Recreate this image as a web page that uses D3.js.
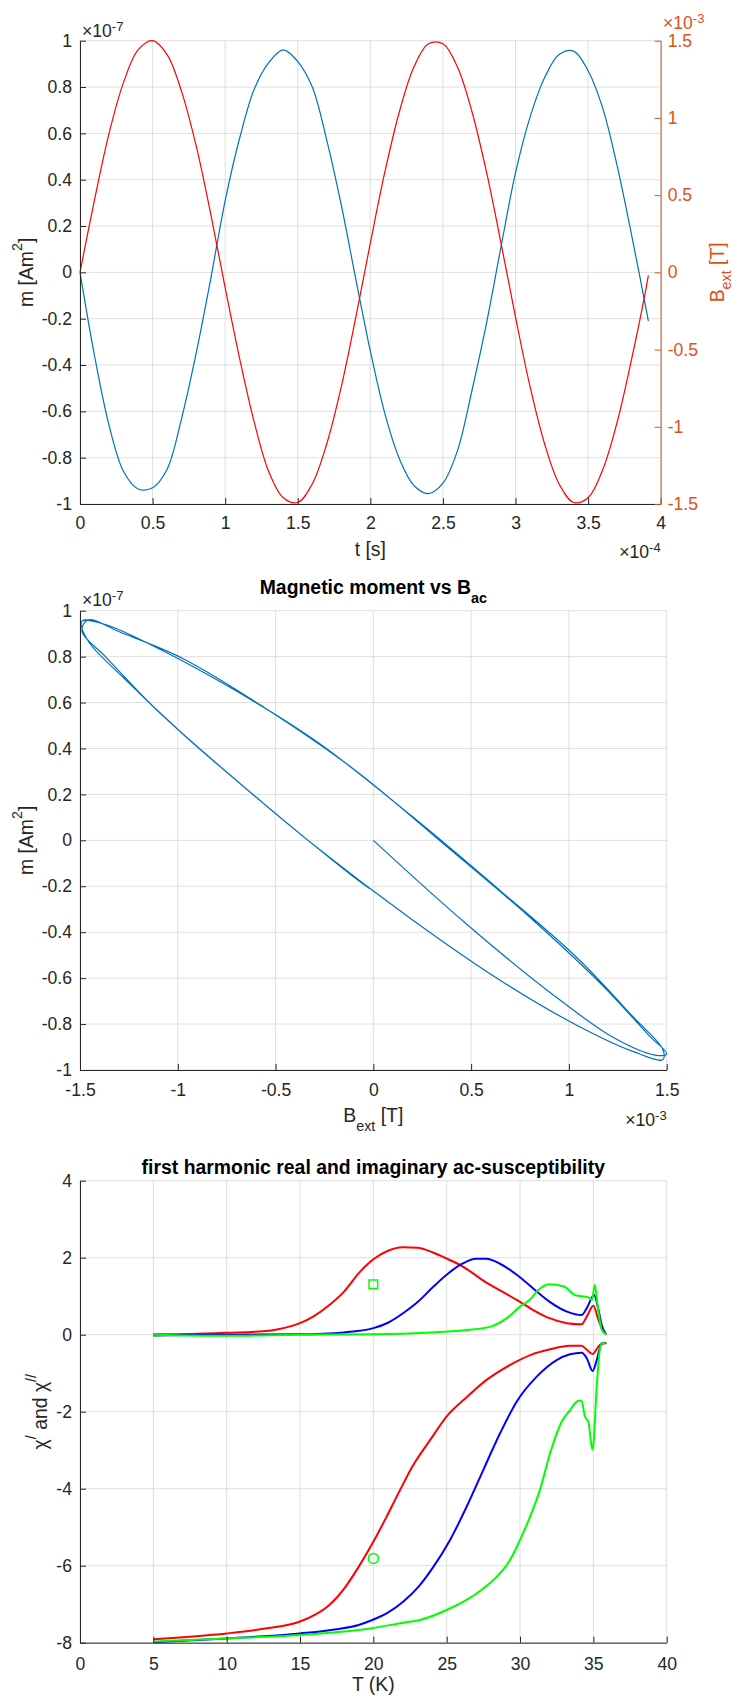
<!DOCTYPE html>
<html>
<head>
<meta charset="utf-8">
<script src="https://cdnjs.cloudflare.com/ajax/libs/d3/7.8.5/d3.min.js"></script>
<style>
body { margin: 0; background: #fff; }
svg { display: block; }
</style>
</head>
<body>
<script>
// time signal: t in 1e-4 s, B_ext in 1e-3 T, m in 1e-7 Am^2
const timeVals = [0, 0.1, 0.2, 0.3, 0.4, 0.5, 0.6, 0.7, 0.8, 0.9,
  1.0, 1.1, 1.2, 1.3, 1.4, 1.5, 1.6, 1.7, 1.8, 1.9,
  2.0, 2.1, 2.2, 2.3, 2.4, 2.5, 2.6, 2.7, 2.8, 2.9,
  3.0, 3.1, 3.2, 3.3, 3.4, 3.5, 3.6, 3.7, 3.8, 3.9, 3.915];
const fieldVals = [0, 0.47, 0.90, 1.23, 1.44, 1.50, 1.41, 1.17, 0.82, 0.38,
  -0.10, -0.56, -0.97, -1.29, -1.46, -1.49, -1.37, -1.11, -0.74, -0.29,
  0.19, 0.65, 1.04, 1.33, 1.48, 1.48, 1.33, 1.04, 0.65, 0.19,
  -0.29, -0.74, -1.11, -1.37, -1.49, -1.46, -1.28, -0.97, -0.56, -0.10, -0.02];
const momentVals = [0, -0.36, -0.66, -0.86, -0.935, -0.93, -0.85, -0.63, -0.35, -0.03,
  0.31, 0.58, 0.79, 0.905, 0.96, 0.91, 0.80, 0.57, 0.29, -0.03,
  -0.34, -0.61, -0.805, -0.92, -0.955, -0.91, -0.77, -0.51, -0.22, 0.11,
  0.43, 0.67, 0.84, 0.94, 0.955, 0.87, 0.71, 0.46, 0.16, -0.16, -0.21];

// tick values
const timeTicks = [0, 0.5, 1, 1.5, 2, 2.5, 3, 3.5, 4];
const momentTicks = [-1, -0.8, -0.6, -0.4, -0.2, 0, 0.2, 0.4, 0.6, 0.8, 1];
const fieldTicks = [-1.5, -1, -0.5, 0, 0.5, 1, 1.5];
const tempTicks = [0, 5, 10, 15, 20, 25, 30, 35, 40];
const chiTicks = [-8, -6, -4, -2, 0, 2, 4];

// susceptibility curves (T in K)
const redImagT = [5, 7.5, 10, 12.5, 13.6, 15, 15.9, 17.0, 18.0, 19.1, 20.0, 21.0, 22.0, 23.0, 24.1, 25.1, 26.1, 27.6, 28.6, 29.8, 30.9, 32.0, 33.2, 34.2, 34.55, 35.0, 35.35, 35.7, 35.9];
const redImag = [0.01, 0.02, 0.05, 0.09, 0.15, 0.30, 0.47, 0.77, 1.12, 1.64, 1.96, 2.18, 2.27, 2.26, 2.13, 1.96, 1.77, 1.38, 1.16, 0.90, 0.64, 0.43, 0.30, 0.27, 0.47, 0.75, 0.38, 0.08, 0.0];
const blueImagT = [5, 10, 15, 18, 20, 21, 22, 23, 24.1, 25.1, 26.1, 27.0, 27.7, 28.6, 29.8, 30.9, 32.0, 33.2, 34.2, 34.55, 35.05, 35.35, 35.6, 35.85];
const blueImag = [-0.02, 0.0, 0.01, 0.06, 0.17, 0.31, 0.55, 0.84, 1.25, 1.59, 1.85, 1.97, 1.97, 1.85, 1.55, 1.20, 0.86, 0.60, 0.51, 0.69, 1.03, 0.64, 0.21, 0.02];
const greenImagT = [5, 10, 15, 20, 24, 26.4, 28, 29.1, 30, 30.7, 31.25, 32.0, 33.0, 33.75, 34.66, 34.9, 35.1, 35.3, 35.57, 35.9];
const greenImag = [0, -0.03, 0, 0.01, 0.06, 0.12, 0.21, 0.43, 0.73, 0.92, 1.16, 1.31, 1.25, 1.03, 0.97, 0.90, 1.29, 0.73, 0.13, 0.0];

const redRealT = [5, 10, 12.5, 15, 16, 17, 18, 19, 20, 20.9, 21.8, 22.7, 23.9, 25, 26.4, 27.7, 29.3, 30.7, 32.05, 33.4, 34.2, 34.55, 34.95, 35.34, 35.68, 35.9];
const redReal = [-7.91, -7.76, -7.64, -7.45, -7.28, -7.02, -6.6, -6.03, -5.38, -4.73, -4.05, -3.40, -2.72, -2.12, -1.61, -1.18, -0.79, -0.53, -0.38, -0.29, -0.29, -0.39, -0.50, -0.31, -0.22, -0.22];
const blueRealT = [5, 10, 15, 17.5, 19, 19.8, 20.9, 22.05, 23.07, 24.09, 25.23, 26.36, 27.5, 28.64, 29.77, 31.14, 32.5, 33.41, 34.2, 34.55, 34.95, 35.23, 35.57, 35.8];
const blueReal = [-7.99, -7.89, -7.76, -7.65, -7.54, -7.43, -7.24, -6.93, -6.55, -6.03, -5.33, -4.47, -3.51, -2.56, -1.74, -1.09, -0.66, -0.51, -0.47, -0.61, -0.94, -0.66, -0.22, -0.22];
const greenRealT = [5, 10, 15, 19.8, 22.05, 23.18, 25, 26.36, 27.5, 28.41, 29.32, 30, 30.68, 31.36, 32.05, 32.84, 33.41, 33.75, 34.05, 34.2, 34.43, 34.66, 34.82, 34.95, 35.23, 35.41, 35.57, 35.8];
const greenReal = [-7.97, -7.89, -7.80, -7.63, -7.48, -7.41, -7.15, -6.89, -6.59, -6.29, -5.85, -5.33, -4.73, -4.03, -3.08, -2.26, -1.96, -1.78, -1.71, -1.73, -2.13, -2.26, -2.74, -2.99, -1.35, -0.48, -0.22, -0.22];

const squareT = [20], squareChi = [1.31];
const circleT = [20], circleChi = [-5.81];

// canvas + styling constants
const canvWidth = 737, canvHeight = 1698;
const fontFam = '"Liberation Sans", Arial, Helvetica, sans-serif';
const tickFont = 17.6, labelFont = 19.4;
const axisColor = '#262626', gridColor = '#dfdfdf';
const orange = '#D95319', mBlue = '#0072BD';

const svg = d3.select("body").append("svg")
  .attr("width", canvWidth).attr("height", canvHeight)
  .style("font-family", fontFam);

const fmt = d => String(Math.round(d * 100) / 100);

//HELPERS
function drawGrid(g, x, y, xt, yt) {
  const [x0, x1] = x.range(), [y1, y0] = y.range();
  g.append('g').selectAll('line').data(xt).join('line')
    .attr('x1', d => x(d)).attr('x2', d => x(d)).attr('y1', y0).attr('y2', y1)
    .attr('stroke', gridColor).attr('stroke-width', 1);
  g.append('g').selectAll('line').data(yt).join('line')
    .attr('y1', d => y(d)).attr('y2', d => y(d)).attr('x1', x0).attr('x2', x1)
    .attr('stroke', gridColor).attr('stroke-width', 1);
}

function styleAxis(a, color) {
  a.attr('font-family', fontFam).attr('font-size', tickFont);
  a.select('.domain').attr('stroke', color);
  a.selectAll('.tick line').attr('stroke', color);
  a.selectAll('.tick text').attr('fill', color);
}

function drawAxes(g, x, y, xt, yt, pad) {
  const bottom = y.range()[0];
  const ax = g.append('g').attr('transform', `translate(0,${bottom})`)
    .call(d3.axisBottom(x).tickValues(xt).tickFormat(fmt).tickSize(-6).tickSizeOuter(0).tickPadding(pad));
  styleAxis(ax, axisColor);
  const ay = g.append('g').attr('transform', `translate(${x.range()[0]},0)`)
    .call(d3.axisLeft(y).tickValues(yt).tickFormat(fmt).tickSize(-6).tickSizeOuter(0).tickPadding(8));
  styleAxis(ay, axisColor);
}

// text with super/subscript parts: [text, 'n'|'sup'|'sub']
function richText(t, parts, size, supShift, subShift) {
  let shift = 0;
  parts.forEach(p => {
    const target = p[1] === 'sup' ? -supShift : p[1] === 'sub' ? subShift : 0;
    t.append('tspan').attr('dy', target - shift)
      .attr('font-size', p[1] === 'n' ? size : size * 0.74)
      .text(p[0]);
    shift = target;
  });
  return t;
}

function exponent(g, x, y, exp, anchor, color) {
  const t = g.append('text').attr('x', x).attr('y', y)
    .attr('text-anchor', anchor).attr('fill', color);
  richText(t, [['×10', 'n'], [exp, 'sup']], tickFont, 6, 0);
}

function label(g, x, y, parts, rotate, color, bold) {
  const t = g.append('text').attr('text-anchor', 'middle').attr('fill', color)
    .attr('font-weight', bold ? 'bold' : 'normal');
  if (rotate) t.attr('transform', `translate(${x},${y}) rotate(-90)`);
  else t.attr('x', x).attr('y', y);
  richText(t, parts, labelFont, 11, rotate ? 7 : 9);
}

//PANEL 1: m and B_ext versus time
const p1 = svg.append('g');
const x1 = d3.scaleLinear().domain([0, 4]).range([80, 660.7]);
const y1 = d3.scaleLinear().domain([-1, 1]).range([504, 40.7]);
const y1r = d3.scaleLinear().domain([-1.5, 1.5]).range([504, 40.7]);
drawGrid(p1, x1, y1, timeTicks, momentTicks);

const idx = d3.range(timeVals.length);
p1.append('path').datum(idx)
  .attr('d', d3.line().x(i => x1(timeVals[i])).y(i => y1(momentVals[i])).curve(d3.curveCatmullRom))
  .attr('fill', 'none').attr('stroke', mBlue).attr('stroke-width', 1.2);
p1.append('path').datum(idx)
  .attr('d', d3.line().x(i => x1(timeVals[i])).y(i => y1r(fieldVals[i])).curve(d3.curveCatmullRom))
  .attr('fill', 'none').attr('stroke', '#FF0000').attr('stroke-width', 1.2);

drawAxes(p1, x1, y1, timeTicks, momentTicks, 13);
const ar = p1.append('g').attr('transform', 'translate(660.7,0)')
  .call(d3.axisRight(y1r).tickValues(fieldTicks).tickFormat(fmt).tickSize(-6).tickSizeOuter(0).tickPadding(7));
styleAxis(ar, orange);

exponent(p1, 82, 36.5, '-7', 'start', axisColor);
exponent(p1, 663, 29, '-3', 'start', orange);
exponent(p1, 660.7, 558, '-4', 'end', axisColor);
label(p1, 370.3, 556, [['t [s]', 'n']], false, axisColor);
label(p1, 32.5, 272.3, [['m [Am', 'n'], ['2', 'sup'], [']', 'n']], true, axisColor);
label(p1, 724, 272.3, [['B', 'n'], ['ext', 'sub'], [' [T]', 'n']], true, orange);

//PANEL 2: hysteresis loop m vs B_ext
const p2 = svg.append('g');
const x2 = d3.scaleLinear().domain([-1.5, 1.5]).range([80, 666.7]);
const y2 = d3.scaleLinear().domain([-1, 1]).range([1070, 610.7]);
drawGrid(p2, x2, y2, fieldTicks, momentTicks);
p2.append('path').datum(idx)
  .attr('d', d3.line().x(i => x2(fieldVals[i])).y(i => y2(momentVals[i])).curve(d3.curveCatmullRom))
  .attr('fill', 'none').attr('stroke', mBlue).attr('stroke-width', 1.2);
drawAxes(p2, x2, y2, fieldTicks, momentTicks, 14);
exponent(p2, 82, 606, '-7', 'start', axisColor);
exponent(p2, 666.7, 1126, '-3', 'end', axisColor);
label(p2, 373.3, 593.5, [['Magnetic moment vs B', 'n'], ['ac', 'sub']], false, '#000', true);
label(p2, 373.3, 1121.7, [['B', 'n'], ['ext', 'sub'], [' [T]', 'n']], false, axisColor);
label(p2, 32.5, 840.3, [['m [Am', 'n'], ['2', 'sup'], [']', 'n']], true, axisColor);

//PANEL 3: susceptibility vs temperature
const p3 = svg.append('g');
const x3 = d3.scaleLinear().domain([0, 40]).range([80, 666.7]);
const y3 = d3.scaleLinear().domain([-8, 4]).range([1642.7, 1180.7]);
drawGrid(p3, x3, y3, tempTicks, chiTicks);

const chiSeries = [
  [redImagT, redImag, '#FF0000'], [blueImagT, blueImag, '#0000FF'], [greenImagT, greenImag, '#00FF00'],
  [redRealT, redReal, '#FF0000'], [blueRealT, blueReal, '#0000FF'], [greenRealT, greenReal, '#00FF00']
];
chiSeries.forEach(s => {
  p3.append('path').datum(d3.range(s[0].length))
    .attr('d', d3.line().x(i => x3(s[0][i])).y(i => y3(s[1][i])).curve(d3.curveMonotoneX))
    .attr('fill', 'none').attr('stroke', s[2]).attr('stroke-width', 2);
});

p3.selectAll('.sq').data(squareT).join('rect')
  .attr('x', d => x3(d) - 4.3).attr('y', (d, i) => y3(squareChi[i]) - 4.3)
  .attr('width', 8.6).attr('height', 8.6)
  .attr('fill', 'none').attr('stroke', '#00FF00').attr('stroke-width', 1.5);
p3.selectAll('.ci').data(circleT).join('circle')
  .attr('cx', d => x3(d)).attr('cy', (d, i) => y3(circleChi[i])).attr('r', 5)
  .attr('fill', 'none').attr('stroke', '#00FF00').attr('stroke-width', 1.5);

drawAxes(p3, x3, y3, tempTicks, chiTicks, 14.5);
label(p3, 373.3, 1173.5, [['first harmonic real and imaginary ac-susceptibility', 'n']], false, '#000', true);
label(p3, 373.3, 1691, [['T (K)', 'n']], false, axisColor);
label(p3, 46.5, 1411.7, [['χ', 'n'], ['/', 'sup'], [' and χ', 'n'], ['//', 'sup']], true, axisColor);
</script>
</body>
</html>
